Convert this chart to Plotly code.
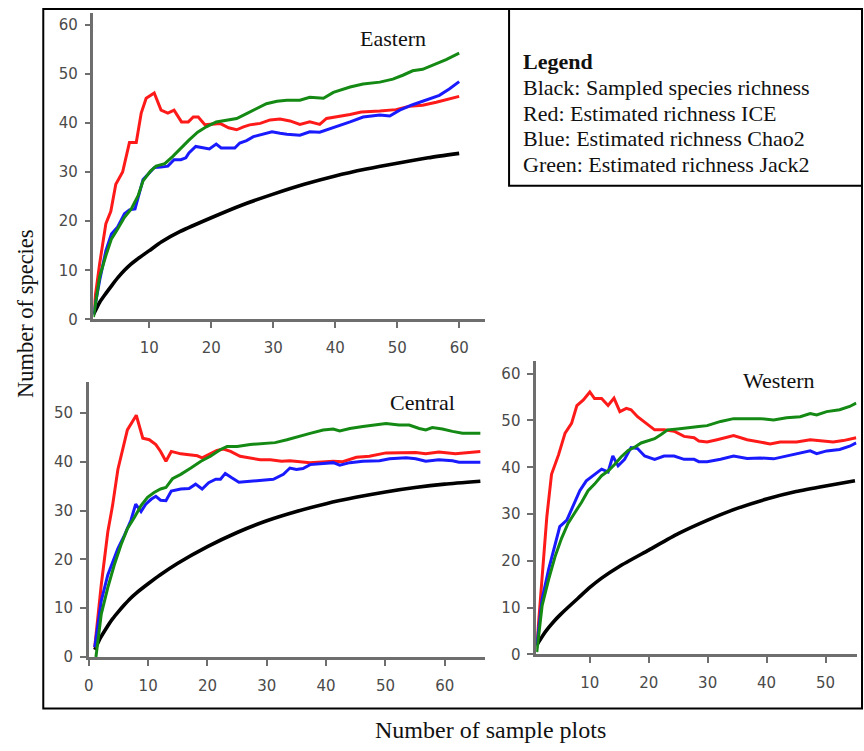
import plotly.graph_objects as go

W, H = 864, 751

# ---------------- Data ----------------
# Eastern
east_black_x = [1, 2, 3, 4, 5, 6, 7, 8, 10, 12, 15, 20, 25, 30, 35, 40, 45, 50, 55, 60]
east_black_y = [1, 3.5, 5.3, 7, 8.6, 10, 11.2, 12.2, 14, 15.8, 17.9, 20.7, 23.3, 25.5, 27.5, 29.2, 30.6, 31.8, 32.9, 33.8]
east_red_x = [1, 2, 3, 3.8, 4.6, 5.7, 6.8, 7.9, 8.7, 9.5, 10.8, 11.9, 13, 14, 15.2, 16.3, 17.1, 17.9, 19, 20.4, 21.4,
              22.8, 24.1, 25.2, 26.2, 27.9, 29.5, 31.1, 32.7, 34.3, 35.9, 37.5, 38.6, 42.4, 44.2, 47.2, 49.8, 52,
              54.1, 56.3, 58.4, 60]
east_red_y = [2, 11.4, 19.5, 22, 27.5, 30, 36, 36, 42, 45, 46.1, 42.6, 42, 42.6, 40.2, 40.2, 41.2, 41.2, 39.6, 39.7, 39.9,
              39, 38.6, 39.2, 39.6, 39.9, 40.6, 40.8, 40.4, 39.7, 40.2, 39.7, 40.9, 41.7, 42.2, 42.4, 42.7, 43.4,
              43.6, 44.2, 44.9, 45.4]
east_blue_x = [1, 2, 3, 3.9, 4.9, 6, 6.8, 7.7, 8.2, 9, 10, 10.8, 11.9, 13, 14, 15.1, 15.9, 16.4, 17.5, 18.6, 19.7,
               20.8, 21.6, 22.8, 23.8, 24.6, 25.7, 26.8, 28.2, 29.8, 31.1, 32.2, 34.3, 35.9, 37.5, 39.7, 42.4, 44.5,
               47.2, 48.8, 50.4, 52.5, 54.7, 56.8, 58.4, 60]
east_blue_y = [1, 8, 14, 17.4, 18.8, 21.5, 22.3, 22.5, 24.8, 28.5, 29.8, 30.9, 31, 31.2, 32.5, 32.5, 32.9, 33.9, 35.2,
               34.9, 34.7, 35.7, 34.9, 34.9, 34.9, 35.9, 36.4, 37.2, 37.7, 38.2, 37.9, 37.7, 37.5, 38.2, 38.1, 39,
               40.2, 41.2, 41.6, 41.4, 42.6, 43.7, 44.6, 45.6, 46.9, 48.4]
east_green_x = [1, 2, 3, 3.9, 4.9, 6, 7.1, 8.2, 9, 10.2, 11.1, 12.5, 13.8, 15.1, 16.4, 17.8, 19.2, 20.8, 22.4, 24.1,
                25.7, 27.3, 28.9, 30.6, 32.2, 34.3, 35.9, 38.1, 39.7, 42.4, 44.5, 47.2, 49.3, 50.9, 52.5, 54.1,
                55.7, 57.9, 60]
east_green_y = [0.5, 8.7, 13, 16.4, 18.4, 20.8, 22.5, 25.2, 28.2, 30.2, 31.2, 31.7, 33.2, 34.9, 36.5, 38.1, 39.2,
                40.2, 40.6, 40.9, 41.9, 42.9, 43.9, 44.4, 44.6, 44.6, 45.2, 45, 46.2, 47.3, 47.9, 48.3, 48.9, 49.7,
                50.6, 50.9, 51.7, 52.9, 54.2]

# Central
cen_black_x = [1, 2, 3, 4, 5, 6, 7, 8, 10, 12, 15, 20, 25, 30, 35, 40, 45, 50, 55, 60, 66]
cen_black_y = [1.5, 4, 6, 7.8, 9.3, 10.7, 12, 13.1, 15, 16.8, 19.2, 22.6, 25.5, 27.9, 29.8, 31.4, 32.7, 33.8, 34.7, 35.4, 36]
cen_red_x = [1, 2.1, 3.2, 4, 4.9, 5.7, 6.5, 7.7, 8, 9.1, 10.2, 11.3, 12.1, 13, 13.9, 15.5, 17.2, 18.3, 19.1, 20.5,
             21.6, 22.7, 23.9, 25.5, 27.2, 28.9, 30.6, 32.5, 33.9, 35.6, 37.3, 41.2, 42.8, 45.1, 47.3, 50.1, 52.3,
             55.1, 56.8, 59, 61.8, 63.5, 66]
cen_red_y = [2, 14.8, 25.6, 31, 38.4, 42.5, 46.5, 48.9, 49.5, 44.8, 44.5, 43.5, 42.1, 40.1, 42.1, 41.6, 41.4, 41.2,
             40.8, 41.6, 42.3, 42.6, 42.1, 41.1, 40.8, 40.4, 40.4, 40.1, 40.2, 40, 39.8, 40.1, 40, 40.9, 41.1, 41.8,
             41.9, 41.9, 41.6, 42, 41.6, 41.8, 42.1]
cen_blue_x = [1, 2.1, 3.2, 4.9, 6, 7.1, 7.9, 8.8, 9.6, 10.5, 11.3, 12.1, 13, 13.9, 15.5, 16.9, 18, 19.1, 20.2, 21.4,
              22.2, 23, 24.1, 25.3, 27.2, 29.4, 31.1, 32.8, 33.9, 35, 36.1, 37.3, 39.5, 41.2, 42.3, 44, 46.2, 49,
              50.7, 53.5, 55.1, 56.8, 59, 61.3, 62.4, 66]
cen_blue_y = [2, 11.5, 16.8, 22.2, 24.9, 28, 31.3, 29.8, 31.3, 32.3, 32.9, 32.1, 32, 34, 34.4, 34.5, 35.4, 34.4, 35.7,
              36.4, 36.4, 37.6, 36.7, 35.8, 36, 36.2, 36.4, 37.4, 38.7, 38.4, 38.6, 39.4, 39.6, 39.8, 39.3, 39.8,
              40.1, 40.2, 40.6, 40.8, 40.6, 40.1, 40.4, 40.2, 39.9, 39.9]
cen_green_x = [1.2, 2.1, 3.2, 4.3, 5.4, 6.5, 7.7, 8.8, 9.9, 11, 12.1, 13, 14.1, 15.5, 17.2, 18.9, 20.5, 22.2, 23.3,
               25, 27.2, 29.4, 31.4, 33.4, 35.6, 37.3, 39.5, 41.2, 42.3, 44, 46.2, 48.4, 50.1, 52.3, 54, 55.7, 56.8,
               57.9, 59.6, 61.3, 63, 66]
cen_green_y = [0, 8.8, 14.2, 18.9, 22.9, 26.3, 28.6, 31, 32.7, 33.7, 34.4, 34.7, 36.5, 37.4, 38.7, 40.1, 41.1, 42.5,
               43.1, 43.1, 43.5, 43.7, 43.9, 44.5, 45.3, 45.8, 46.5, 46.7, 46.3, 46.8, 47.2, 47.5, 47.8, 47.5, 47.5,
               46.8, 46.5, 47, 46.7, 46.2, 45.8, 45.8]

# Western
wes_black_x = [1, 2, 3, 4, 5, 6, 8, 10, 12, 15, 20, 25, 30, 35, 40, 45, 50, 55]
wes_black_y = [2, 4, 5.7, 7.2, 8.5, 9.7, 12, 14.3, 16.3, 18.8, 22.3, 25.8, 28.7, 31.2, 33.2, 34.8, 36, 37.1]
wes_red_x = [1, 1.9, 2.7, 3.5, 4.7, 5.8, 6.9, 7.8, 8.9, 10, 10.8, 12, 13.1, 14.1, 15.1, 16.2, 17, 18.1, 19.6, 21,
             22.6, 24.3, 26, 27.7, 28.5, 29.9, 31.6, 34.4, 36.7, 38.9, 40.6, 42.3, 45.1, 47.4, 49, 51.3, 53, 55.2]
wes_red_y = [1.9, 17.4, 29.4, 38.5, 42.7, 47.3, 49.4, 53.2, 54.4, 56.1, 54.7, 54.7, 53.2, 54.8, 51.9, 52.6, 52.3,
             50.8, 49.4, 48, 48, 47.7, 46.6, 46.3, 45.6, 45.4, 45.9, 46.8, 45.9, 45.4, 45, 45.4, 45.4, 45.9, 45.7,
             45.4, 45.7, 46.3]
wes_blue_x = [1, 1.9, 3, 4.1, 4.9, 6.1, 7.2, 8.3, 9.4, 10.6, 12, 13.1, 13.9, 14.8, 15.9, 17, 18.1, 19.3, 21, 22.6,
              24.3, 26, 27.7, 28.5, 29.9, 32.2, 34.4, 36.7, 38.9, 41.2, 43.4, 45.7, 47.4, 48.5, 50.2, 52.4, 54.1, 55.2]
wes_blue_y = [1.9, 11.8, 18.1, 23.7, 27.3, 28.7, 31.8, 35, 37.1, 38.2, 39.6, 39, 42.4, 40.3, 41.7, 44.2, 44, 42.4,
              41.7, 42.4, 42.4, 41.7, 41.7, 41.2, 41.2, 41.7, 42.4, 41.9, 42, 41.8, 42.4, 42.9, 43.5, 42.9, 43.5,
              43.8, 44.5, 45.2]
wes_green_x = [1, 1.9, 3, 4.1, 5.2, 6.3, 7.5, 8.6, 9.7, 10.8, 12, 13.1, 14.2, 15.3, 16.5, 17.6, 18.7, 19.8, 21, 22.1,
               23.2, 24.9, 26.6, 28.5, 29.9, 32.2, 34.4, 36.7, 38.9, 41.2, 43.4, 45.7, 47.4, 48.5, 50.2, 52.4, 54.1, 55.2]
wes_green_y = [0.5, 10.4, 16, 20.9, 24.8, 28, 30.4, 32.5, 35, 36.4, 38.2, 39.2, 40.6, 42.2, 43.6, 44.3, 45.2, 45.7,
               46.1, 47, 48, 48.2, 48.5, 48.7, 48.9, 49.8, 50.4, 50.4, 50.4, 50.1, 50.6, 50.8, 51.5, 51.2, 51.9,
               52.3, 53, 53.7]

panel_titles = ["Eastern", "Central", "Western"]
legend_title = "Legend"
legend_lines = ["Black: Sampled species richness",
                "Red: Estimated richness ICE",
                "Blue: Estimated richness Chao2",
                "Green: Estimated richness Jack2"]
y_title = "Number of species"
x_title = "Number of sample plots"

# ---------------- Styling ----------------
C_BLACK = "#000000"
C_RED = "#ff1a1a"
C_BLUE = "#1a1aff"
C_GREEN = "#148a14"
AX_COL = "#6e6e6e"
TICK_FONT = dict(family="DejaVu Sans", size=15, color="#4a4a4a")
SERIF = "Liberation Serif, Times New Roman, serif"


def px(x):
    return x / W


def py(y):
    return 1 - y / H


fig = go.Figure()

panels = [
    ("", [(east_black_x, east_black_y, C_BLACK), (east_red_x, east_red_y, C_RED),
          (east_blue_x, east_blue_y, C_BLUE), (east_green_x, east_green_y, C_GREEN)],
     (89, 483), (323.3, 13), [1, 64.2], [0, 62.4], [10, 20, 30, 40, 50, 60], [0, 10, 20, 30, 40, 50, 60]),
    ("2", [(cen_black_x, cen_black_y, C_BLACK), (cen_red_x, cen_red_y, C_RED),
           (cen_blue_x, cen_blue_y, C_BLUE), (cen_green_x, cen_green_y, C_GREEN)],
     (84.3, 482.3), (665, 386.7), [0, 66.7], [0, 56.3], [0, 10, 20, 30, 40, 50, 60], [0, 10, 20, 30, 40, 50]),
    ("3", [(wes_black_x, wes_black_y, C_BLACK), (wes_red_x, wes_red_y, C_RED),
           (wes_blue_x, wes_blue_y, C_BLUE), (wes_green_x, wes_green_y, C_GREEN)],
     (534.3, 856.7), (662.3, 365), [0.9, 55.3], [0, 62.8], [10, 20, 30, 40, 50], [0, 10, 20, 30, 40, 50, 60]),
]

for suf, series, xd, yd, xr, yr, xt, yt in panels:
    xa = "x" + suf
    ya = "y" + suf
    for sx, sy, col in series:
        is_black = col == C_BLACK
        fig.add_trace(go.Scatter(
            x=sx, y=sy, mode="lines", xaxis=xa, yaxis=ya, showlegend=False,
            line=dict(color=col, width=3.6 if is_black else 3,
                      shape="spline" if is_black else "linear", smoothing=0.6 if is_black else None),
            hoverinfo="skip"))
    axcommon = dict(showline=True, linecolor=AX_COL, linewidth=2.5, ticks="outside", ticklen=6,
                    tickwidth=2, tickcolor=AX_COL, showgrid=False, zeroline=False, tickfont=TICK_FONT,
                    fixedrange=True)
    fig.layout["xaxis" + suf] = dict(domain=[px(xd[0]), px(xd[1])], range=xr, tickvals=xt,
                                     anchor=ya, ticklabelstandoff=7, **axcommon)
    fig.layout["yaxis" + suf] = dict(domain=[py(yd[0]), py(yd[1])], range=yr, tickvals=yt,
                                     anchor=xa, ticklabelstandoff=4, **axcommon)

annotations = []
# Panel titles
for txt, (x, y) in zip(panel_titles, [(390, 39), (420, 407), (779, 385)]):
    annotations.append(dict(text=txt, x=px(x), y=py(y), xref="paper", yref="paper", showarrow=False,
                            xanchor="center", yanchor="middle",
                            font=dict(family=SERIF, size=22, color="#111111")))
# Legend text
annotations.append(dict(text="<b>" + legend_title + "</b>", x=px(519), y=py(62), xref="paper", yref="paper",
                        showarrow=False, xanchor="left", yanchor="middle",
                        font=dict(family=SERIF, size=22, color="#111111")))
for i, line in enumerate(legend_lines):
    annotations.append(dict(text=line, x=px(519), y=py(89 + i * 25.7), xref="paper", yref="paper",
                            showarrow=False, xanchor="left", yanchor="middle",
                            font=dict(family=SERIF, size=22, color="#111111")))
# Axis titles
annotations.append(dict(text=y_title, x=px(20), y=py(317), xref="paper", yref="paper", showarrow=False,
                        textangle=-90, xanchor="center", yanchor="middle",
                        font=dict(family=SERIF, size=22.5, color="#111111")))
annotations.append(dict(text=x_title, x=px(488), y=py(739), xref="paper", yref="paper", showarrow=False,
                        xanchor="center", yanchor="middle",
                        font=dict(family=SERIF, size=24, color="#111111")))

shapes = [
    dict(type="rect", xref="paper", yref="paper", x0=px(38.5), x1=px(862), y0=py(717), y1=py(9),
         line=dict(color="#000000", width=2)),
    dict(type="rect", xref="paper", yref="paper", x0=px(507), x1=px(862), y0=py(188), y1=py(9),
         line=dict(color="#000000", width=2), fillcolor="white", layer="below"),
]

fig.update_layout(width=W, height=H, margin=dict(l=0, r=0, t=0, b=0, pad=0),
                  paper_bgcolor="white", plot_bgcolor="rgba(0,0,0,0)",
                  annotations=annotations, shapes=shapes, showlegend=False)

fig.write_html("out.html", config={"displayModeBar": False})
